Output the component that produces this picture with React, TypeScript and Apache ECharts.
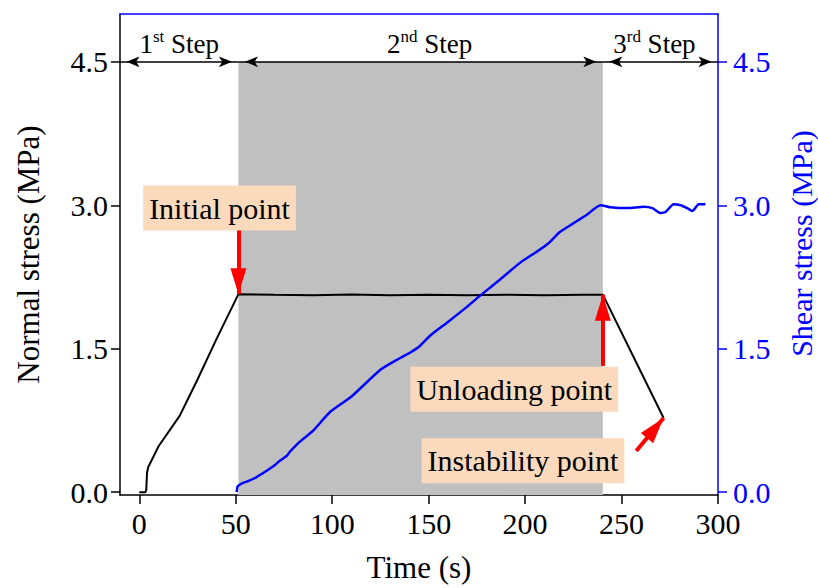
import React, { useEffect, useRef } from "react";
import * as echarts from "echarts";

// Normal stress (left axis) vs time
const normalTime = [0, 3.2, 3.6, 4.0, 4.6, 10, 21, 30, 40, 51.4, 70, 90, 110, 130, 150, 170, 190, 210, 230, 240.3, 271.8];
const normalStress = [0, 0, 0.02, 0.2, 0.26, 0.48, 0.8, 1.17, 1.6, 2.07, 2.065, 2.06, 2.066, 2.06, 2.064, 2.06, 2.065, 2.06, 2.064, 2.065, 0.775];

// Shear stress (right axis) vs time
const shearTime = [50.5, 51, 53, 57, 61, 65, 69.5, 73, 76.5, 78, 83.4, 90, 99, 110, 125, 135, 140.5, 145, 151, 160, 170, 177, 185, 197.5, 205, 212, 218, 225, 232, 239.1, 244, 253, 261.5, 266, 270, 272.8, 277, 280.6, 284, 286.7, 290, 293.5];
const shearStress = [0.0, 0.06, 0.09, 0.12, 0.16, 0.21, 0.27, 0.33, 0.38, 0.42, 0.53, 0.64, 0.84, 1.0, 1.28, 1.4, 1.46, 1.52, 1.64, 1.78, 1.94, 2.06, 2.19, 2.4, 2.5, 2.6, 2.72, 2.81, 2.9, 3.0, 2.98, 2.97, 2.985, 2.97, 2.92, 2.93, 3.01, 3.0, 2.97, 2.94, 3.01, 3.01];

// Test stages: boundaries in seconds and their ordinal labels
const stepBounds = [-10, 51.4, 240.3, 300];
const stepNumbers = ["1", "2", "3"];
const stepSuffixes = ["st", "nd", "rd"];
const stepLevel = 4.5;

// Axis ticks
const timeTicks = [0, 50, 100, 150, 200, 250, 300];
const stressTicks = [0, 1.5, 3.0, 4.5];

// Key points on the normal-stress curve
const keyPointNames = ["Initial point", "Unloading point", "Instability point"];
const keyPoints: [number, number][] = [
  [51.4, 2.07],
  [240.3, 2.065],
  [271.8, 0.775],
];

const FONT = "'Liberation Serif', 'Times New Roman', serif";
const BLUE = "#0000ff";

// Where each annotation box and its arrow tail sit
const boxCenters: [number, number][] = [
  [41.6, 2.97],
  [194.4, 1.075],
  [198.9, 0.328],
];
const arrowTails: [number, number][] = [
  [51.4, 2.76],
  [240.3, 1.32],
  [257.6, 0.43],
];
// horizontal nudge of each stage label, px
const stepLabelShift = [0, 9, -6];

export default function App() {
  const ref = useRef<HTMLDivElement>(null);

  useEffect(() => {
    if (!ref.current) return;
    const chart = echarts.init(ref.current, null, { renderer: "svg" });

    const normalData = normalTime.map((t, i) => [t, normalStress[i]]);
    const shearData = shearTime.map((t, i) => [t, shearStress[i]]);

    const stepLines = stepNumbers.map((n, i) => [
      { name: String(i), coord: [stepBounds[i], stepLevel], label: { offset: [stepLabelShift[i], 0] } },
      { coord: [stepBounds[i + 1], stepLevel] },
    ]);

    const redArrows = keyPoints.map((p, i) => [
      { coord: arrowTails[i] },
      { coord: p },
    ]);

    const yAxisBase = (color: string, position: "left" | "right", name: string, margin: number) => ({
      type: "value",
      position,
      min: -0.03,
      max: 5.0,
      name,
      nameLocation: "middle",
      nameGap: position === "left" ? 76 : 68,
      nameTextStyle: {
        fontFamily: FONT,
        fontSize: position === "left" ? 31 : 30,
        color,
        padding: position === "left" ? [0, 0, 0, 0] : [0, 0, 0, 22],
      },
      axisLine: { show: true, onZero: false, lineStyle: { color, width: 1.5 } },
      axisTick: { show: true, inside: false, length: 9, customValues: stressTicks, lineStyle: { color, width: 1.5 } },
      axisLabel: {
        show: true,
        margin,
        customValues: stressTicks,
        fontFamily: FONT,
        fontSize: 30,
        color,
        formatter: (v: number) => v.toFixed(1),
      },
      splitLine: { show: false },
    });

    chart.setOption({
      animation: false,
      grid: { left: 120, right: 100, top: 14, bottom: 93, containLabel: false, outerBoundsMode: "none" },
      xAxis: [
        {
          type: "value",
          position: "bottom",
          min: -10,
          max: 300,
          name: "Time (s)",
          nameLocation: "middle",
          nameGap: 57,
          nameTextStyle: { fontFamily: FONT, fontSize: 31, color: "#000" },
          axisLine: { onZero: false, lineStyle: { color: "#000", width: 1.5 } },
          axisTick: { inside: false, length: 9, customValues: timeTicks, lineStyle: { color: "#000", width: 1.5 } },
          axisLabel: { margin: 13, customValues: timeTicks, fontFamily: FONT, fontSize: 30, color: "#000" },
          splitLine: { show: false },
        },
        {
          type: "value",
          position: "top",
          min: -10,
          max: 300,
          axisLine: { onZero: false, lineStyle: { color: BLUE, width: 1.5 } },
          axisTick: { show: false },
          axisLabel: { show: false },
          splitLine: { show: false },
        },
      ],
      yAxis: [
        yAxisBase("#000", "left", "Normal stress (MPa)", 12),
        yAxisBase(BLUE, "right", "Shear stress (MPa)", 15),
      ],
      series: [
        {
          // second-step shading and stage arrows
          type: "line",
          data: [],
          z: 1,
          silent: true,
          markArea: {
            silent: true,
            itemStyle: { color: "#c0c0c0" },
            data: [[{ coord: [stepBounds[1], -0.03] }, { coord: [stepBounds[2], stepLevel] }]],
          },
          markLine: {
            silent: true,
            symbol: ["arrow", "arrow"],
            symbolSize: [8, 13],
            symbolOffset: [[0, 6.5], [0, 6.5]],
            lineStyle: { color: "#000", width: 1.5, type: "solid" },
            label: {
              show: true,
              position: "middle",
              distance: 4,
              formatter: (p: any) => {
                const i = Number(p.name);
                return `{n|${stepNumbers[i]}}{s|${stepSuffixes[i]}}{n| Step}`;
              },
              rich: {
                n: { fontFamily: FONT, fontSize: 27, color: "#000", lineHeight: 30, verticalAlign: "bottom" },
                s: { fontFamily: FONT, fontSize: 17, color: "#000", lineHeight: 17, verticalAlign: "top" },
              },
            },
            emphasis: { disabled: true },
            data: stepLines,
          },
        },
        {
          name: "Normal stress",
          type: "line",
          yAxisIndex: 0,
          data: normalData,
          showSymbol: false,
          symbol: "none",
          z: 3,
          lineStyle: { color: "#000", width: 2 },
        },
        {
          name: "Shear stress",
          type: "line",
          yAxisIndex: 1,
          data: shearData,
          showSymbol: false,
          symbol: "none",
          smooth: 0.2,
          z: 3,
          lineStyle: { color: BLUE, width: 2.5 },
        },
        {
          // annotation arrows and labels
          type: "line",
          data: [],
          z: 5,
          silent: true,
          markLine: {
            silent: true,
            symbol: ["none", "triangle"],
            symbolSize: [16, 26],
            symbolOffset: [[0, 0], [0, 13]],
            lineStyle: { color: "#ff0000", width: 4, type: "solid" },
            itemStyle: { color: "#ff0000" },
            label: { show: false },
            emphasis: { disabled: true },
            data: redArrows,
          },
          markPoint: {
            silent: true,
            symbol: "rect",
            symbolSize: 1,
            itemStyle: { color: "rgba(0,0,0,0)" },
            label: {
              show: true,
              position: "inside",
              formatter: "{b}",
              fontFamily: FONT,
              fontSize: 30,
              lineHeight: 32,
              color: "#000",
              backgroundColor: "#fad9bd",
              padding: [7, 6, 6, 6],
            },
            data: keyPointNames.map((name, i) => ({ name, coord: boxCenters[i] })),
          },
        },
      ],
    });

    return () => chart.dispose();
  }, []);

  return (
    <div
      ref={ref}
      style={{ position: "fixed", left: 0, top: 0, width: 818, height: 588, background: "#fff" }}
    />
  );
}
